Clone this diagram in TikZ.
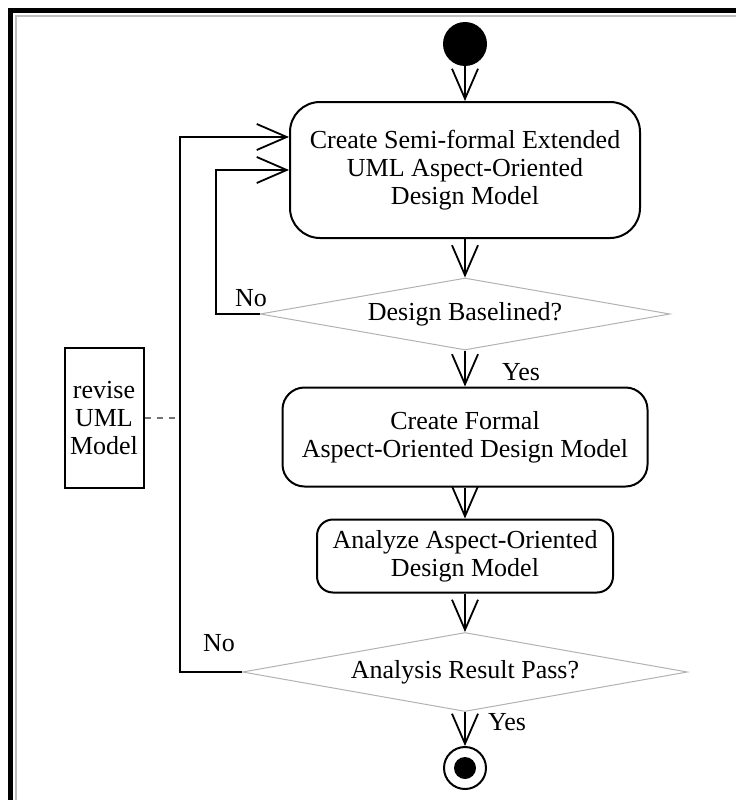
\documentclass[tikz,border=0pt]{standalone}
\usepackage{fontspec}
\setmainfont{Liberation Serif}
\usetikzlibrary{shapes.geometric,arrows.meta,positioning}
\tikzset{
    step-box/.style = {draw=black, line width=2pt, fill=white, rectangle, rounded corners=26pt, align=center, inner sep=0pt, font=\fontsize{26}{28}\selectfont},
    decision-box/.style = {draw=black!30, line width=1pt, diamond, aspect=5.7, inner sep=0pt, font=\fontsize{26}{28}\selectfont},
    note-box/.style = {draw=black, line width=2pt, rectangle, align=center, inner sep=0pt, font=\fontsize{26}{28}\selectfont},
    flow-arrow/.style = {draw=black, line width=2pt, -{Straight Barb[length=30pt,width=26pt,line width=1.8pt]}},
    flow-label/.style = {font=\fontsize{26}{28}\selectfont, inner sep=0pt},
    start-dot/.style = {circle, fill=black, minimum size=44pt, inner sep=0pt},
    end-dot/.style = {circle, draw=black, line width=2pt, minimum size=42pt, inner sep=0pt, path picture={\fill (path picture bounding box.center) circle (11pt);}},
}
\begin{document}
\begin{tikzpicture}[x=1pt, y=-1pt]
\useasboundingbox (0,0) rectangle (736,800);
% frame
\draw[line width=5pt] (10.5,800) -- (10.5,10.5) -- (736,10.5);
\draw[black!25, line width=2pt] (16,800) -- (16,16) -- (736,16);

\node[start-dot] (start) at (465,44) {};
\node[step-box, minimum width=350pt, minimum height=136pt, rounded corners=30pt] (create) at (465,170) {Create Semi-formal Extended\\UML Aspect-Oriented\\Design Model};
\node[decision-box, minimum width=410pt, minimum height=72pt] (baselined) at (465,314) {Design Baselined?};
\node[step-box, minimum width=365pt, minimum height=99pt, rounded corners=22pt] (formal) at (465,437) {Create Formal\\Aspect-Oriented Design Model};
\node[step-box, minimum width=296pt, minimum height=73pt, rounded corners=16pt] (analyze) at (465,556) {Analyze Aspect-Oriented\\Design Model};
\node[decision-box, minimum width=445pt, minimum height=79pt] (pass) at (465,672) {Analysis Result Pass?};
\node[end-dot] (stop) at (465,768) {};
\node[note-box, minimum width=79pt, minimum height=140pt] (revise) at (104,418) {revise\\UML\\Model};

% main flow
\draw[flow-arrow] (start) -- (create);
\draw[flow-arrow] (create) -- (baselined);
\draw[flow-arrow] (baselined) -- (formal);
\draw[flow-arrow] (formal) -- (analyze);
\draw[flow-arrow] (analyze) -- (pass);
\draw[flow-arrow] (pass) -- (stop);

% loops back
\draw[flow-arrow] (baselined.west) -- ++(-44,0) |- (create.west);
\draw[flow-arrow] (pass.west) -- ++(-62,0) |- ([yshift=33pt]create.west);

\coordinate (tap) at (178,418);
\draw[black!55, line width=2pt, dash pattern=on 6pt off 6pt] (revise) -- (tap);

\node[flow-label] (no-1) at (251,298) {No};
\node[flow-label] (yes-1) at (521,372) {Yes};
\node[flow-label] (no-2) at (219,643) {No};
\node[flow-label] (yes-2) at (507,722) {Yes};
\end{tikzpicture}
\end{document}
